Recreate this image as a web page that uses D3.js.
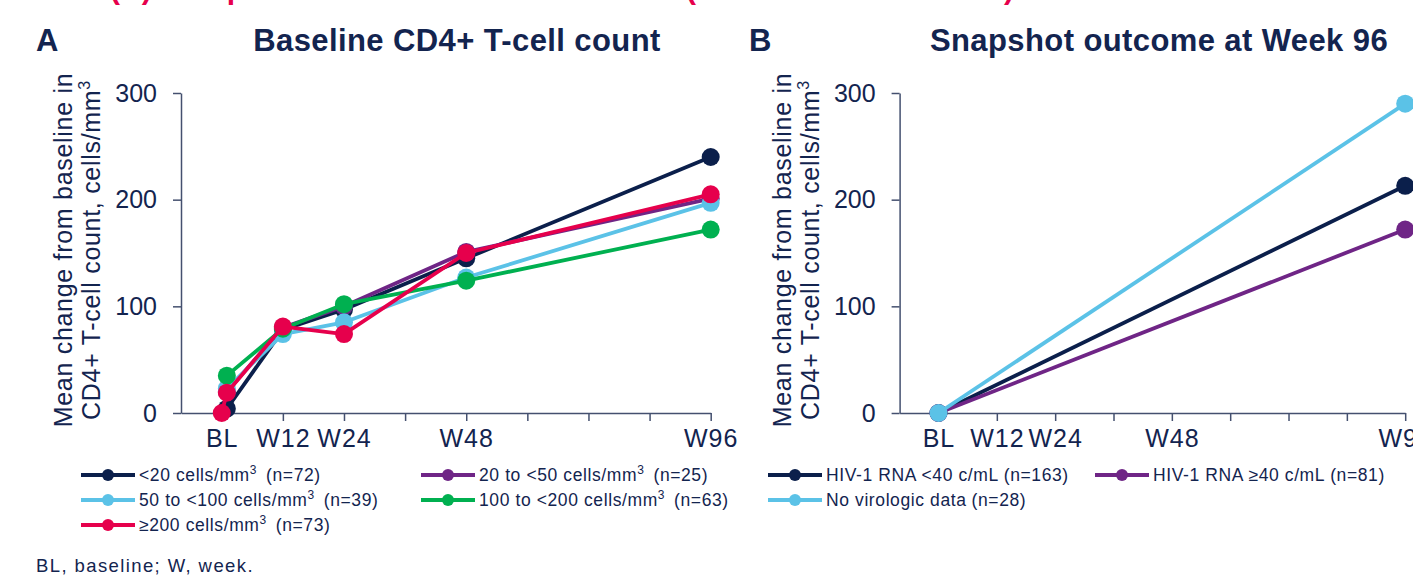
<!DOCTYPE html>
<html>
<head>
<meta charset="utf-8">
<script src="https://cdn.jsdelivr.net/npm/d3@7"></script>
<style>
  body { margin: 0; background: #fff; }
  svg text { font-family: "Liberation Sans", Arial, sans-serif; }
</style>
</head>
<body>
<svg id="chart" width="1413" height="577"></svg>
<script>
// x is in weeks, BL = week 0
var weekTicks = [12, 24, 36, 48, 60, 72, 84, 96];
var labelWeeks = [0, 12, 24, 48, 96];
var labelNames = ["BL", "W12", "W24", "W48", "W96"];
var yTicks = [0, 100, 200, 300];

// panel A - baseline CD4+ T-cell count subgroups
var weeksA = [1, 12, 24, 48, 96];
var lt20 = [4, 78, 97, 145, 240];
var from20to50 = [20, 80, 100, 151, 201];
var from50to100 = [23, 74, 85, 127, 197];
var from100to200 = [35, 79, 102, 124, 172];
var weeksGe200 = [0, 1, 12, 24, 48, 96];
var ge200 = [0, 19, 81, 74, 150, 205];
var namesA = ["<20 cells/mm", "20 to <50 cells/mm", "50 to <100 cells/mm", "100 to <200 cells/mm", "\u2265200 cells/mm"];
var nA = [72, 25, 39, 63, 73];

// panel B - snapshot outcome at week 96
var weeksB = [0, 96];
var rnaLt40 = [0, 213];
var rnaGe40 = [0, 172];
var noData = [0, 290];
var namesB = ["HIV-1 RNA <40 c/mL", "HIV-1 RNA \u226540 c/mL", "No virologic data"];
var nB = [163, 81, 28];

var navy = "#0b1f4b", purple = "#6f2586", lightBlue = "#5bc2e7", green = "#00b050", red = "#e6004c";
var textCol = "#13244f", axisCol = "#44506f";

var svg = d3.select("#chart");

function zip(w, v) { return w.map(function(d, i) { return [d, v[i]]; }); }

var seriesA = [
  {name: namesA[0], n: nA[0], color: navy, pts: zip(weeksA, lt20)},
  {name: namesA[1], n: nA[1], color: purple, pts: zip(weeksA, from20to50)},
  {name: namesA[2], n: nA[2], color: lightBlue, pts: zip(weeksA, from50to100)},
  {name: namesA[3], n: nA[3], color: green, pts: zip(weeksA, from100to200)},
  {name: namesA[4], n: nA[4], color: red, pts: zip(weeksGe200, ge200)}
];
var seriesB = [
  {name: namesB[0], n: nB[0], color: navy, pts: zip(weeksB, rnaLt40)},
  {name: namesB[1], n: nB[1], color: purple, pts: zip(weeksB, rnaGe40)},
  {name: namesB[2], n: nB[2], color: lightBlue, pts: zip(weeksB, noData)}
];

// clipped red heading at the very top
svg.append("text").attr("x", 110).attr("y", -1)
  .attr("font-size", 30).attr("font-weight", "bold").attr("fill", red)
  .text("(A) Comparison of CD4+ count");
svg.append("text").attr("x", 686).attr("y", -1)
  .attr("font-size", 30).attr("font-weight", "bold").attr("fill", red)
  .text("(Week 96 ITT-E results)");

function drawPanel(left, right, series, letter, letterX, title, titleX, legendX, supers) {
  var x = d3.scaleLinear().domain([-8, 96]).range([left, right]);
  var y = d3.scaleLinear().domain([0, 300]).range([413, 93]);

  // letter + title
  svg.append("text").attr("x", letterX).attr("y", 51)
    .attr("font-size", 31).attr("font-weight", "bold").attr("fill", textCol).text(letter);
  svg.append("text").attr("x", titleX).attr("y", 51).attr("text-anchor", "middle")
    .attr("font-size", 31).attr("font-weight", "bold").attr("letter-spacing", 0.4)
    .attr("fill", textCol).text(title);

  // y axis
  var gy = svg.append("g").attr("transform", "translate(" + left + ",0)")
    .call(d3.axisLeft(y).tickValues(yTicks).tickSize(8).tickSizeOuter(0).tickPadding(16));
  // x axis ticks
  var gx = svg.append("g").attr("transform", "translate(0,413)")
    .call(d3.axisBottom(x).tickValues(weekTicks).tickSize(8).tickSizeOuter(0).tickFormat(""));
  // x labels
  var gl = svg.append("g").attr("transform", "translate(0,413)")
    .call(d3.axisBottom(x).tickValues(labelWeeks).tickSize(0).tickPadding(16)
      .tickFormat(function(d, i) { return labelNames[i]; }));
  gl.select(".domain").remove();

  [gy, gx, gl].forEach(function(g) {
    g.attr("font-family", null).attr("font-size", null);
    g.selectAll("path, line").attr("stroke", axisCol).attr("stroke-width", 1.5);
    g.selectAll("text").attr("font-size", 25).attr("fill", textCol);
  });
  gl.selectAll("text").attr("letter-spacing", 1);

  // y axis title (two lines)
  var cy = 250;
  svg.append("text")
    .attr("transform", "translate(" + (left - 109) + "," + cy + ") rotate(-90)")
    .attr("text-anchor", "middle").attr("font-size", 25).attr("letter-spacing", 0.7)
    .attr("fill", textCol).text("Mean change from baseline in");
  var t2 = svg.append("text")
    .attr("transform", "translate(" + (left - 81) + "," + cy + ") rotate(-90)")
    .attr("text-anchor", "middle").attr("font-size", 25).attr("letter-spacing", 0.7)
    .attr("fill", textCol);
  t2.append("tspan").text("CD4+ T-cell count, cells/mm");
  t2.append("tspan").attr("dy", -10).attr("font-size", 16).text("3");

  // lines and points
  var line = d3.line().x(function(d) { return x(d[0]); }).y(function(d) { return y(d[1]); });
  series.forEach(function(s) {
    var g = svg.append("g");
    g.append("path").datum(s.pts).attr("d", line)
      .attr("fill", "none").attr("stroke", s.color).attr("stroke-width", 3.8)
      .attr("stroke-linejoin", "round");
    g.selectAll("circle").data(s.pts).enter().append("circle")
      .attr("cx", function(d) { return x(d[0]); })
      .attr("cy", function(d) { return y(d[1]); })
      .attr("r", 9).attr("fill", s.color);
  });

  // legend, 2 columns
  series.forEach(function(s, i) {
    var lx = legendX[i % 2], ly = 475 + Math.floor(i / 2) * 25;
    var g = svg.append("g");
    g.append("line").attr("x1", lx).attr("x2", lx + 54).attr("y1", ly).attr("y2", ly)
      .attr("stroke", s.color).attr("stroke-width", 4);
    g.append("circle").attr("cx", lx + 27).attr("cy", ly).attr("r", 6).attr("fill", s.color);
    var t = g.append("text").attr("x", lx + 58).attr("y", ly + 6)
      .attr("font-size", 17.5).attr("letter-spacing", 0.6).attr("fill", textCol);
    t.append("tspan").text(s.name);
    if (supers) {
      t.append("tspan").attr("dy", -7).attr("font-size", 12).text("3");
      t.append("tspan").attr("dy", 7).attr("dx", 9).text("(n=" + s.n + ")");
    } else {
      t.append("tspan").attr("dx", 5).text("(n=" + s.n + ")");
    }
  });
}

drawPanel(181, 710.7, seriesA, "A", 36, "Baseline CD4+ T-cell count", 457, [81, 421], true);
drawPanel(899.6, 1405.2, seriesB, "B", 749, "Snapshot outcome at Week 96", 1159, [768, 1095], false);

// footnote
svg.append("text").attr("x", 36).attr("y", 572)
  .attr("font-size", 18.5).attr("letter-spacing", 1.4).attr("fill", textCol)
  .text("BL, baseline; W, week.");
</script>
</body>
</html>
